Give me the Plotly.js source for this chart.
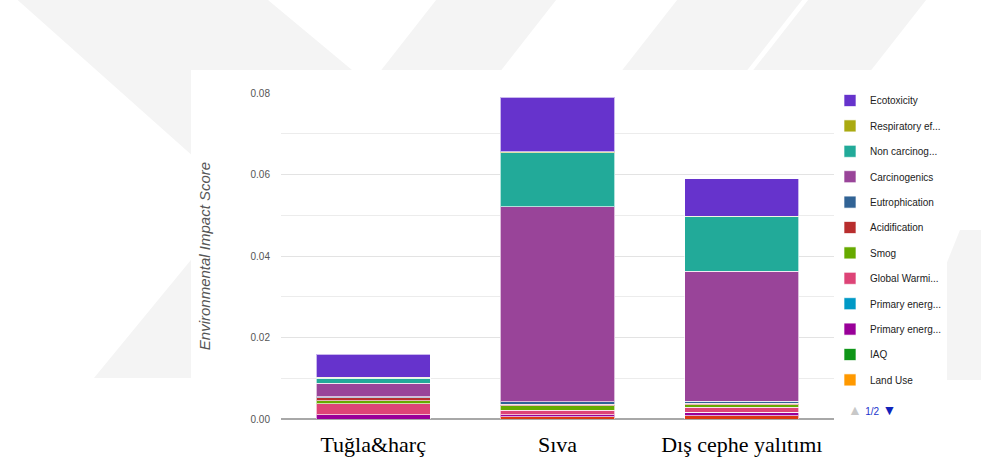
<!DOCTYPE html>
<html>
<head>
<meta charset="utf-8">
<script src="https://cdn.plot.ly/plotly-3.0.1.min.js"></script>
<style>html,body{margin:0;padding:0;background:#fff;}#chart{width:981px;height:464px;}</style>
</head>
<body>
<div id="chart"></div>
<script>
// Categories (x axis)
const categories = ["Tuğla&harç", "Sıva", "Dış cephe yalıtımı"];

// Series, stacked bottom -> top
const page2Series   = [0.0000, 0.0005, 0.0008];   // series on legend page 2 (not shown in legend page 1)
const landUse       = [0, 0, 0];
const iaq           = [0, 0, 0];
const primaryEnergA = [0.0010, 0.0006, 0.0008];
const primaryEnergB = [0, 0, 0];
const globalWarming = [0.0027, 0.0011, 0.0013];
const smog          = [0.0008, 0.0010, 0.0006];
const acidification = [0.0007, 0.0004, 0.0004];
const eutrophication= [0.0003, 0.0006, 0.0005];
const carcinogenics = [0.0033, 0.0479, 0.0319];
const nonCarcinog   = [0.0012, 0.0133, 0.0133];
const respiratory   = [0.0002, 0.0002, 0.0002];
const ecotoxicity   = [0.0057, 0.0133, 0.0091];

const seriesNames = ["(page 2)", "Land Use", "IAQ", "Primary energ...", "Primary energ...",
  "Global Warmi...", "Smog", "Acidification", "Eutrophication", "Carcinogenics",
  "Non carcinog...", "Respiratory ef...", "Ecotoxicity"];
const seriesValues = [page2Series, landUse, iaq, primaryEnergA, primaryEnergB, globalWarming,
  smog, acidification, eutrophication, carcinogenics, nonCarcinog, respiratory, ecotoxicity];
const seriesColors = ["#DC3912", "#FF9900", "#109618", "#990099", "#0099C6", "#DD4477",
  "#66AA00", "#B82E2E", "#316395", "#994499", "#22AA99", "#AAAA11", "#6633CC"];

const yTickVals = [0, 0.02, 0.04, 0.06, 0.08];
const yTickText = ["0.00", "0.02", "0.04", "0.06", "0.08"];

const traces = seriesNames.map((n, i) => ({
  type: "bar",
  name: n,
  x: categories,
  y: seriesValues[i],
  legendgroup: "g" + i,
  legendrank: 100 - i,
  showlegend: i !== 0,
  marker: { color: seriesColors[i], line: { color: "rgba(255,255,255,0.65)", width: 1 } },
  hoverinfo: "none"
}));

// Plot geometry (for decorative watermark shapes in paper coords)
const L = 281, R = 834, T = 93, B = 419;
function px(x) { return (x - L) / (R - L); }
function py(y) { return (B - y) / (B - T); }
function poly(pts) {
  return "M" + pts.map(p => px(p[0]).toFixed(4) + "," + py(p[1]).toFixed(4)).join("L") + "Z";
}
const wm = "#f4f4f4";
const wmShapes = [
  // left chevron ">"
  [[12,-5],[150,-5],[378,200],[231,378],[94,378],[241,199]],
  // second "\" band
  [[140,-5],[262,-5],[400,110],[278,110]],
  // "/" bands at top
  [[440,-5],[560,-5],[470,110],[350,110]],
  [[681,-5],[806,-5],[716,110],[591,110]],
  [[812,-5],[930,-5],[840,110],[722,110]],
  // right lower band
  [[900,380],[1000,380],[1000,230],[960,230]]
].map(p => ({ type: "path", xref: "paper", yref: "paper", path: poly(p),
  fillcolor: wm, line: { width: 0 }, layer: "below" }));
// white chart card on top of watermark
wmShapes.push({ type: "rect", xref: "paper", yref: "paper",
  x0: px(191), x1: px(947), y0: py(470), y1: py(70),
  fillcolor: "#ffffff", line: { width: 0 }, layer: "below" });

const layout = {
  width: 981, height: 464,
  margin: { l: L, r: 981 - R, t: T, b: 464 - B, pad: 0 },
  paper_bgcolor: "#ffffff",
  plot_bgcolor: "rgba(0,0,0,0)",
  barmode: "stack",
  bargap: 0.38,
  font: { family: "Liberation Sans, Arial, sans-serif", color: "#444" },
  xaxis: {
    type: "category",
    tickfont: { family: "Liberation Serif, Times New Roman, serif", size: 22, color: "#000" },
    ticks: "outside", ticklen: 6, tickcolor: "rgba(0,0,0,0)",
    showgrid: false, showline: false, zeroline: false, fixedrange: true
  },
  yaxis: {
    range: [0, 0.08],
    tickvals: yTickVals, ticktext: yTickText,
    tickfont: { size: 10, color: "#555" },
    ticks: "outside", ticklen: 8, tickcolor: "rgba(0,0,0,0)",
    showgrid: true, gridcolor: "#e3e3e3", gridwidth: 1,
    minor: { dtick: 0.01, showgrid: true, gridcolor: "#ececec", gridwidth: 1 },
    zeroline: true, zerolinecolor: "#a8a8a8", zerolinewidth: 2,
    showline: false,
    title: { text: "<i>Environmental Impact Score</i>", font: { size: 15, color: "#555" }, standoff: 36 },
    automargin: false
  },
  legend: {
    x: px(830), xanchor: "left", y: py(86), yanchor: "top",
    traceorder: "grouped", tracegroupgap: 6.4, maxheight: 420,
    font: { size: 10, color: "#222" },
    bgcolor: "rgba(0,0,0,0)", itemwidth: 30, itemclick: false
  },
  shapes: wmShapes,
  annotations: [{
    xref: "paper", yref: "paper", x: px(846), y: py(410), xanchor: "left", yanchor: "middle",
    showarrow: false,
    text: '<span style="color:#c8c8c8;font-size:14px">▲</span> <span style="color:#2233cc;font-size:10px">1/2</span> <span style="color:#1122bb;font-size:14px">▼</span>',
    font: { size: 12 }
  }]
};

Plotly.newPlot("chart", traces, layout, { staticPlot: true, displayModeBar: false });
</script>
</body>
</html>
